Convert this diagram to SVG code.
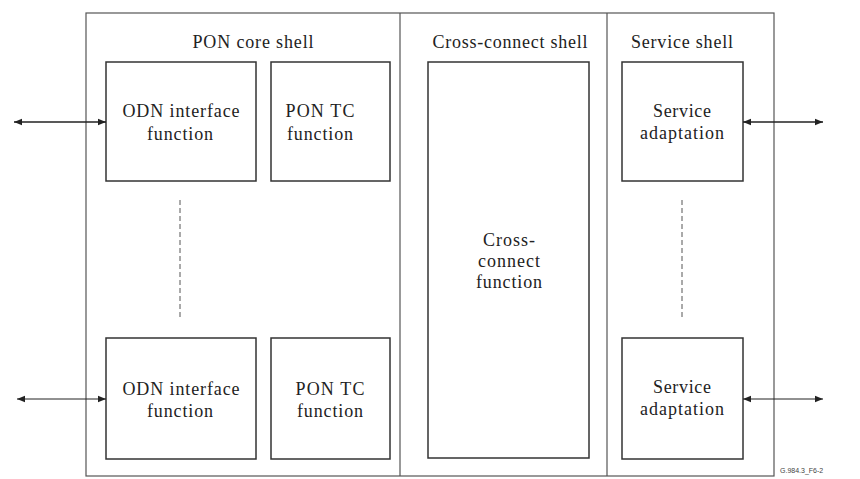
<svg xmlns="http://www.w3.org/2000/svg" width="860" height="479" viewBox="0 0 860 479">
<style>
.box{fill:none;stroke:#333;stroke-width:1.5}
.shell{fill:none;stroke:#555;stroke-width:1.2}
.t{font-size:18px;fill:#222;text-anchor:middle}
.dash{stroke:#555;stroke-width:1;stroke-dasharray:5,3}
.arr{stroke:#222;fill:none}
.small{font-size:7px;fill:#444}
</style>
<defs>
<marker id="ah" viewBox="0 0 10 10" refX="10" refY="5" markerWidth="8" markerHeight="8" markerUnits="userSpaceOnUse" orient="auto-start-reverse">
<path d="M0,1 L10,5 L0,9 z" fill="#222"/>
</marker>
</defs>
<rect x="0" y="0" width="860" height="479" fill="#fff"/>
<g font-family="Liberation Serif, DejaVu Serif, serif">
<g id="shells">
<rect class="shell" x="86" y="13" width="688" height="463"/>
<line class="shell" x1="400" y1="13" x2="400" y2="476"/>
<line class="shell" x1="607" y1="13" x2="607" y2="476"/>
<text class="t" x="253" y="48" textLength="121" lengthAdjust="spacing">PON core shell</text>
<text class="t" x="510" y="48" textLength="155" lengthAdjust="spacing">Cross-connect shell</text>
<text class="t" x="682" y="48" textLength="102" lengthAdjust="spacing">Service shell</text>
</g>
<g id="odn1">
<rect class="box" x="106" y="62" width="150" height="119"/>
<text class="t" x="181" y="117" textLength="117" lengthAdjust="spacing">ODN interface</text>
<text class="t" x="180" y="140" textLength="66" lengthAdjust="spacing">function</text>
</g>
<g id="pontc1">
<rect class="box" x="271" y="62" width="119" height="119"/>
<text class="t" x="320" y="117" textLength="69" lengthAdjust="spacing">PON TC</text>
<text class="t" x="320" y="140" textLength="66" lengthAdjust="spacing">function</text>
</g>
<g id="odn2">
<rect class="box" x="106" y="338" width="150" height="121"/>
<text class="t" x="181" y="395" textLength="117" lengthAdjust="spacing">ODN interface</text>
<text class="t" x="180" y="417" textLength="66" lengthAdjust="spacing">function</text>
</g>
<g id="pontc2">
<rect class="box" x="271" y="338" width="119" height="121"/>
<text class="t" x="330" y="395" textLength="69" lengthAdjust="spacing">PON TC</text>
<text class="t" x="330" y="417" textLength="66" lengthAdjust="spacing">function</text>
</g>
<g id="xc">
<rect class="box" x="428" y="62" width="161" height="396"/>
<text class="t" x="509" y="246" textLength="52" lengthAdjust="spacing">Cross-</text>
<text class="t" x="509" y="267" textLength="62" lengthAdjust="spacing">connect</text>
<text class="t" x="509" y="288" textLength="66" lengthAdjust="spacing">function</text>
</g>
<g id="sa1">
<rect class="box" x="622" y="62" width="121" height="119"/>
<text class="t" x="682" y="117" textLength="58" lengthAdjust="spacing">Service</text>
<text class="t" x="682" y="139" textLength="84" lengthAdjust="spacing">adaptation</text>
</g>
<g id="sa2">
<rect class="box" x="622" y="338" width="121" height="121"/>
<text class="t" x="682" y="393" textLength="58" lengthAdjust="spacing">Service</text>
<text class="t" x="682" y="415" textLength="84" lengthAdjust="spacing">adaptation</text>
</g>
</g>
<g id="connectors">
<line class="dash" x1="180" y1="200" x2="180" y2="320"/>
<line class="dash" x1="682" y1="200" x2="682" y2="320"/>
<line class="arr" stroke-width="1.6" x1="14" y1="122" x2="106" y2="122" marker-start="url(#ah)" marker-end="url(#ah)"/>
<line class="arr" stroke-width="1" x1="17" y1="399" x2="106" y2="399" marker-start="url(#ah)" marker-end="url(#ah)"/>
<line class="arr" stroke-width="1.6" x1="743" y1="122" x2="823" y2="122" marker-start="url(#ah)" marker-end="url(#ah)"/>
<line class="arr" stroke-width="1" x1="743" y1="399" x2="823" y2="399" marker-start="url(#ah)" marker-end="url(#ah)"/>
</g>
<text class="small" font-family="Liberation Sans, Arial, sans-serif" x="780" y="473">G.984.3_F6-2</text>
</svg>
